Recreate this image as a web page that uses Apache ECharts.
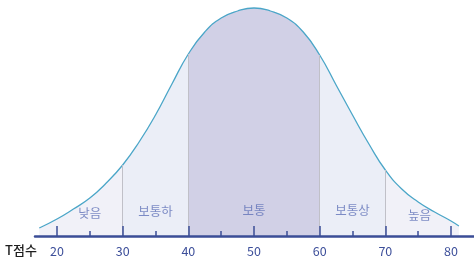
<!DOCTYPE html>
<html>
<head>
<meta charset="utf-8">
<script src="https://cdn.jsdelivr.net/npm/echarts@6/dist/echarts.min.js"></script>
<style>
  html,body{margin:0;padding:0;background:#fff;}
  #chart{width:474px;height:262px;}
</style>
</head>
<body>
<div id="chart"></div>
<script>
"use strict";

// curve (T score, height above baseline)
var curveX=[17.3,20,22.5,25,27.5,30,32.5,35,37.5,40,42.5,45,47.5,50,52.5,55,57.5,60,62.5,65,67.5,70,72.5,75,77.5,80,81.2];
var curveY=[8,17,27,38,53,71,94,121,152,182,204,218,225,228,225,218,204,181,151,121,92,66,47,34,24,15,10];

var majorTicks=[20,30,40,50,60,70,80];
var minorTicks=[25,35,45,55,65,75];
var boundaries=[30,40,60,70];

var bandNames=['낮음','보통하','보통','보통상','높음'];
var bandLabelX=[25,35,50,65,75.2];
var bandLabelY=[23,25,26,26,21];

var COL_OUTER='#f1f1f8';
var COL_MID='#ebeef7';
var COL_CENTER='#d1d0e6';
var AXIS_BLUE='#3b4d97';
var FONT='"Noto Sans CJK KR", "Noto Sans", sans-serif';

var chart=echarts.init(document.getElementById('chart'),null,{renderer:'canvas'});

var curveData=curveX.map(function(x,i){return [x,curveY[i]];});

var sepLines=boundaries.map(function(b){
  var h=curveY[curveX.indexOf(b)];
  return [{coord:[b,0]},{coord:[b,h]}];
});

var labelData=bandNames.map(function(n,i){
  return {name:n,value:[bandLabelX[i],bandLabelY[i]]};
});

var opt={
  animation:false,
  grid:{left:35,right:0,top:0,bottom:26},
  xAxis:[{
    type:'value',min:16.65,max:83.5,position:'bottom',z:10,
    splitLine:{show:false},
    axisLine:{lineStyle:{color:AXIS_BLUE,width:2.5}},
    axisTick:{customValues:majorTicks,inside:true,length:10,lineStyle:{color:AXIS_BLUE,width:1.5}},
    axisLabel:{customValues:majorTicks,margin:9,color:'#3d4f9a',fontSize:12.5,fontFamily:FONT}
  },{
    type:'value',min:16.65,max:83.5,position:'bottom',z:10,
    splitLine:{show:false},
    axisLine:{show:false},
    axisTick:{customValues:minorTicks,inside:true,length:5,lineStyle:{color:AXIS_BLUE,width:1.5}},
    axisLabel:{show:false}
  }],
  yAxis:{type:'value',min:0,max:236,show:false,splitLine:{show:false}},
  visualMap:{
    type:'piecewise',show:false,dimension:0,seriesIndex:0,
    pieces:[
      {lt:30,color:COL_OUTER},
      {gte:30,lt:40,color:COL_MID},
      {gte:40,lt:60,color:COL_CENTER},
      {gte:60,lt:70,color:COL_MID},
      {gte:70,color:COL_OUTER}
    ]
  },
  graphic:[{
    type:'text',left:5,top:244,
    style:{text:'T점수',fill:'#1e1e1e',font:'500 13px '+FONT}
  }],
  series:[{
    type:'line',data:curveData,smooth:0.5,showSymbol:false,
    lineStyle:{color:'#4ba6c8',width:1.3},
    areaStyle:{opacity:1},
    z:2,
    markLine:{
      silent:true,symbol:'none',label:{show:false},
      lineStyle:{color:'#c0c0c8',width:1,type:'solid'},
      data:sepLines
    }
  },{
    type:'scatter',data:labelData,symbolSize:0,z:5,
    label:{show:true,position:'inside',formatter:'{b}',color:'#6072b8',fontSize:12.5,fontFamily:FONT}
  }]
};

chart.setOption(opt);
</script>
</body>
</html>
